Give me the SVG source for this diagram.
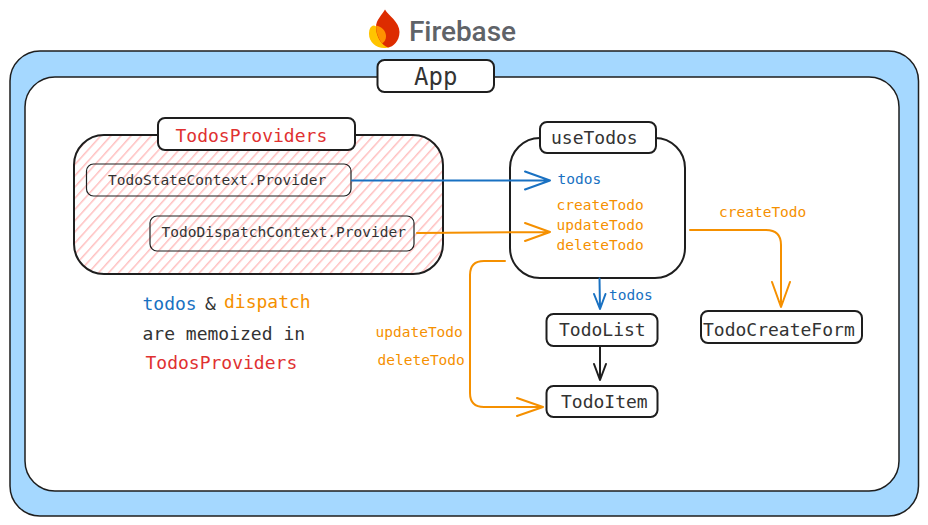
<svg xmlns="http://www.w3.org/2000/svg" width="928" height="525" viewBox="0 0 928 525">
<style>
.b{fill:#fff;stroke:#1e1e1e;stroke-width:2}
.t{font-family:"DejaVu Sans Mono","Liberation Mono",monospace;fill:#333}
.s{font-size:14.5px}.m{font-size:18px}
.blue{fill:#1971c2}.org{fill:#f59000}.red{fill:#e03131}
.c{fill:none;stroke-width:2;stroke-linecap:round;stroke-linejoin:round}
.cb{stroke:#1971c2}.co{stroke:#f59000}.ck{stroke:#1e1e1e}
</style>
<defs>
<pattern id="h" width="7.500" height="20" patternUnits="userSpaceOnUse" patternTransform="rotate(42)">
<rect x="0" y="0" width="1.500" height="20" fill="#ffc0c0"/>
</pattern>
</defs>
<g id="firebase">
<path d="M374 25.500C370 26 369 30 369 34C369 42 376 48 384 48C386 48 388 47.800 390 47L384 30Z" fill="#ffc400"/>
<path d="M385 9.500C388 15 399.500 22 399.500 32C399.500 41 393 47 388 47.500C381 45 376 36 376 27C376 20 382 15 385 9.500Z" fill="#dd2c00"/>
<path d="M376 25.500C381 26 386 31 386 36C386 39 385 42 382 43.500C378 38 376 32 376 25.500Z" fill="#ff9100"/>
<text x="409" y="41" font-family="Roboto,'Open Sans',sans-serif" font-size="28" font-weight="500" fill="#5f6368" textLength="107">Firebase</text>
</g>
<g id="app-frame">
<rect x="10" y="51" width="908.500" height="465" rx="30" fill="#a5d8ff" stroke="#1e1e1e" stroke-width="1.500"/>
<rect x="25" y="77" width="874" height="414" rx="30" fill="#fff" stroke="#1e1e1e" stroke-width="1.500"/>
</g>
<g id="app">
<rect class="b" x="377.500" y="60" width="116.500" height="32" rx="7"/>
<text class="t" x="414" y="85" font-size="24">App</text>
</g>
<g id="todos-providers">
<rect x="74" y="135" width="369" height="139" rx="30" fill="url(#h)" stroke="#1e1e1e" stroke-width="2"/>
<rect class="b" x="158" y="118" width="197" height="32" rx="7"/>
<text class="t m red" x="175.500" y="142">TodosProviders</text>
</g>
<g id="todo-state">
<rect x="86.500" y="164" width="264.500" height="32" rx="7" fill="none" stroke="#1e1e1e" stroke-width="1.200"/>
<text class="t s" x="108" y="185">TodoStateContext.Provider</text>
</g>
<g id="todo-dispatch">
<rect x="150" y="216" width="264" height="35" rx="7" fill="none" stroke="#1e1e1e" stroke-width="1.200"/>
<text class="t s" x="161.500" y="237">TodoDispatchContext.Provider</text>
</g>
<g id="use-todos">
<rect class="b" x="510" y="138" width="175" height="140" rx="30"/>
<rect class="b" x="540" y="122" width="116" height="31" rx="7"/>
<text class="t m" x="551" y="144">useTodos</text>
<text class="t s blue" x="557.500" y="184">todos</text>
<text class="t s org" x="556.500" y="210">createTodo</text>
<text class="t s org" x="556.500" y="230">updateTodo</text>
<text class="t s org" x="556.500" y="250">deleteTodo</text>
</g>
<g id="todo-list">
<rect class="b" x="546.500" y="314" width="111" height="32" rx="7"/>
<text class="t m" x="559" y="336">TodoList</text>
</g>
<g id="todo-item">
<rect class="b" x="546.500" y="386" width="111" height="31" rx="7"/>
<text class="t m" x="561" y="408">TodoItem</text>
</g>
<g id="todo-create-form">
<rect class="b" x="701" y="311" width="161" height="32" rx="7"/>
<text class="t m" x="703" y="336">TodoCreateForm</text>
</g>
<g id="connectors">
<path class="c cb" d="M352 180.500L550 180.500M525 171.500L550 180.500L525 189.500"/>
<path class="c co" d="M417 233L550 232M525 223L550 232L525 241"/>
<path class="c cb" d="M599.500 278.500L600 309M594 294L600 309L605.500 294"/>
<path class="c ck" d="M600 347L600 380M594 364L600 380L606 364"/>
<path class="c co" d="M505 261L484 261Q470 261 470 275L470 393Q470 407 484 407L542 407M517 398L543 407L517 416"/>
<path class="c co" d="M690 230L766 230Q781 230 781 245L781 306M772 282L781 307L790 282"/>
</g>
<g id="labels">
<text class="t s blue" x="609" y="300">todos</text>
<text class="t s org" x="719" y="217">createTodo</text>
<text class="t s org" x="375.500" y="337">updateTodo</text>
<text class="t s org" x="377.500" y="365">deleteTodo</text>
<text class="t m blue" x="142.500" y="310">todos</text>
<text class="t m" x="205" y="310">&amp;</text>
<text class="t m org" x="224" y="308">dispatch</text>
<text class="t m" x="142.500" y="340">are memoized in</text>
<text class="t m red" x="145.500" y="369">TodosProviders</text>
</g>
</svg>
